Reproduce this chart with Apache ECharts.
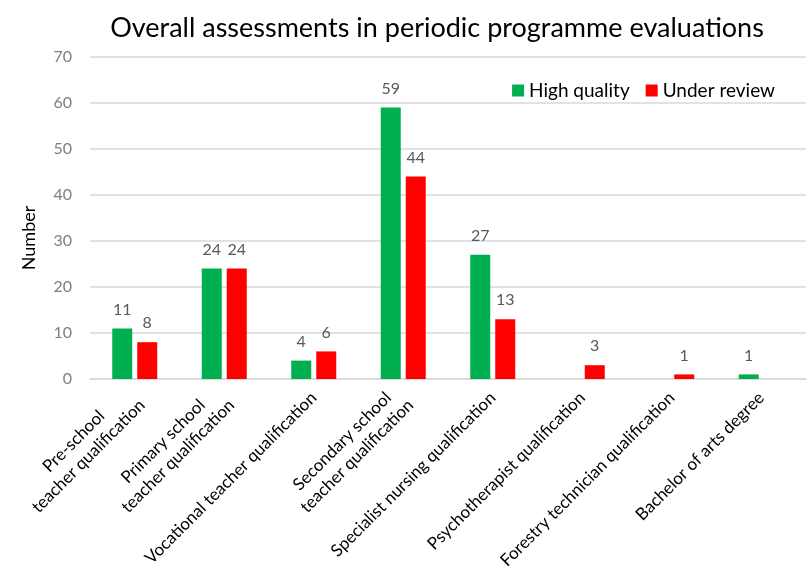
<!DOCTYPE html>
<html>
<head>
<meta charset="utf-8">
<script src="https://cdn.jsdelivr.net/npm/echarts@6/dist/echarts.min.js"></script>
<style>
html, body { margin: 0; padding: 0; background: #fff; }
#chart { width: 812px; height: 568px; }
</style>
</head>
<body>
<div id="chart"></div>
<script>
var categories = [
    "Pre-school\nteacher qualification",
    "Primary school\nteacher qualification",
    "Vocational teacher qualification",
    "Secondary school\nteacher qualification",
    "Specialist nursing qualification",
    "Psychotherapist qualification",
    "Forestry technician qualification",
    "Bachelor of arts degree"
];
var highQuality = [11, 24, 4, 59, 27, 0, 0, 1];
var underReview = [8, 24, 6, 44, 13, 3, 1, 0];
var yTicks = [0, 10, 20, 30, 40, 50, 60, 70];

var font = "Lato";

function hideZero(p)
{
    return p.value === 0 ? "" : p.value;
}

// centre each line of a wrapped category label, like the original
function centredLines(v)
{
    return v.split("\n").map(function (s) { return "{c|" + s + "}"; }).join("\n");
}

var myChart = echarts.init(document.getElementById("chart"));
var option = {
    backgroundColor: "#fff",
    textStyle: { fontFamily: font },
    title: {
        text: "Overall assessments in periodic programme evaluations",
        left: 432,
        top: 10,
        textAlign: "center",
        textStyle: { fontFamily: font, fontSize: 27, fontWeight: "normal", color: "#000" }
    },
    legend: {
        data: ["High quality", "Under review"],
        right: 32,
        top: 76,
        itemWidth: 12,
        itemHeight: 12,
        itemGap: 16,
        icon: "rect",
        textStyle: { fontFamily: font, fontSize: 19, color: "#000" }
    },
    grid: { left: 90, right: 6, top: 57, bottom: 189, outerBoundsMode: "none" },
    xAxis: {
        type: "category",
        data: categories,
        axisLine: { lineStyle: { color: "#d9d9d9", width: 1.5 } },
        axisTick: { show: false },
        axisLabel: {
            interval: 0,
            rotate: 45,
            margin: 16,
            fontFamily: font,
            fontSize: 17,
            color: "#000",
            lineHeight: 21,
            formatter: centredLines,
            rich: {
                c: { fontFamily: font, fontSize: 17, color: "#000", lineHeight: 21, align: "center" }
            }
        }
    },
    yAxis: {
        type: "value",
        min: yTicks[0],
        max: yTicks[yTicks.length - 1],
        interval: 10,
        name: "Number",
        nameLocation: "middle",
        nameGap: 52,
        nameTextStyle: { fontFamily: font, fontSize: 18, color: "#000", padding: [0, 40, 0, 0] },
        axisLine: { show: false },
        axisTick: { show: false },
        axisLabel: { fontFamily: font, fontSize: 16, color: "#7f7f7f", margin: 18 },
        splitLine: { lineStyle: { color: "#d9d9d9", width: 1.5 } }
    },
    series: [
        {
            name: "High quality",
            type: "bar",
            data: highQuality,
            barWidth: 20,
            barGap: "25%",
            itemStyle: { color: "#00b050" },
            label: {
                show: true,
                position: "top",
                distance: 11,
                fontFamily: font,
                fontSize: 16,
                color: "#595959",
                formatter: hideZero
            }
        },
        {
            name: "Under review",
            type: "bar",
            data: underReview,
            barWidth: 20,
            barGap: "25%",
            itemStyle: { color: "#ff0000" },
            label: {
                show: true,
                position: "top",
                distance: 11,
                fontFamily: font,
                fontSize: 16,
                color: "#595959",
                formatter: hideZero
            }
        }
    ]
};
myChart.setOption(option);
</script>
</body>
</html>
